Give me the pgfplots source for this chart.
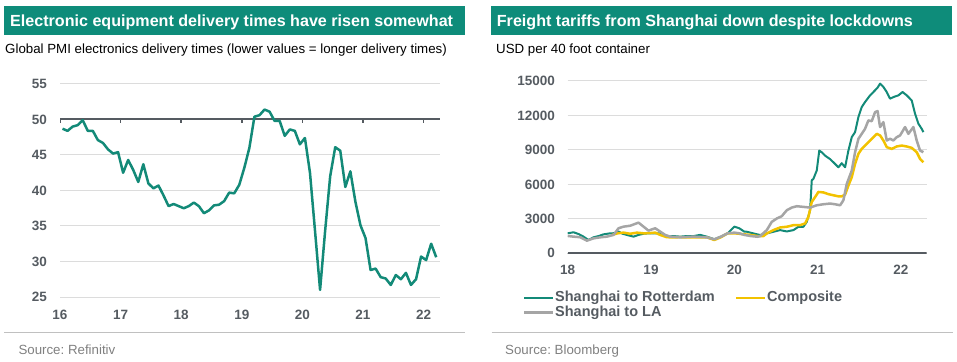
\documentclass[border=0pt]{standalone}
\usepackage{pgfplots}
\pgfplotsset{compat=1.18}
\usepackage{fontspec}
\setmainfont{Liberation Sans}
\frenchspacing
\definecolor{ingteal}{HTML}{0E8C7A}
\definecolor{lineteal}{HTML}{138A78}
\definecolor{compyellow}{HTML}{F2C200}
\definecolor{lagrey}{HTML}{A5A5A5}
\definecolor{axisgrey}{HTML}{555B61}
\definecolor{gridgrey}{HTML}{DCDCDC}
\definecolor{srcgrey}{HTML}{808080}
\definecolor{rulegrey}{HTML}{C0C0C0}

\pgfplotstableread{
x y
0.5 48.7
1.5 48.4
2.5 49.0
3.5 49.2
4.5 49.9
5.5 48.4
6.5 48.4
7.5 47.1
8.5 46.7
9.5 45.8
10.5 45.2
11.5 45.4
12.5 42.5
13.5 44.3
14.5 42.9
15.5 41.2
16.5 43.7
17.5 41.0
18.5 40.3
19.5 40.7
20.5 39.3
21.5 37.8
22.5 38.1
23.5 37.8
24.5 37.5
25.5 37.8
26.5 38.3
27.5 37.8
28.5 36.8
29.5 37.2
30.5 37.9
31.5 38.0
32.5 38.5
33.5 39.7
34.5 39.6
35.5 40.8
36.5 43.2
37.5 46.0
38.5 50.4
39.5 50.6
40.5 51.4
41.5 51.1
42.5 49.8
43.5 49.8
44.5 47.7
45.5 48.6
46.5 48.4
47.5 46.5
48.5 47.4
49.5 42.5
50.5 34.3
51.5 26.0
52.5 34.3
53.5 42.0
54.5 46.1
55.5 45.6
56.5 40.5
57.5 42.7
58.5 38.4
59.5 35.1
60.5 33.3
61.5 28.8
62.5 29.0
63.5 27.8
64.5 27.6
65.5 26.7
66.5 28.1
67.5 27.5
68.5 28.4
69.5 26.7
70.5 27.5
71.5 30.7
72.5 30.2
73.5 32.5
74.5 30.6
}\pmidata

\pgfplotstableread{
x y
18.00 1740
18.07 1830
18.13 1680
18.19 1450
18.25 1160
18.31 1390
18.37 1500
18.43 1650
18.51 1740
18.57 1750
18.61 1890
18.66 1700
18.71 1600
18.79 1450
18.85 1600
18.91 1700
18.97 1740
19.05 1740
19.11 1740
19.19 1450
19.27 1500
19.35 1450
19.43 1500
19.51 1500
19.59 1600
19.67 1450
19.76 1220
19.84 1450
19.92 1740
19.97 2100
20.00 2320
20.06 2180
20.12 1890
20.15 1875
20.23 1730
20.31 1590
20.39 1730
20.47 1875
20.55 2020
20.63 1900
20.71 2020
20.77 2310
20.83 2310
20.87 2740
20.91 3750
20.93 6350
20.95 6490
20.99 7210
21.02 8940
21.05 8800
21.09 8500
21.15 8200
21.21 7780
21.25 7490
21.29 7840
21.33 7490
21.37 8950
21.41 10110
21.45 10550
21.49 11860
21.53 12730
21.57 13170
21.63 13750
21.67 14040
21.72 14420
21.75 14770
21.79 14480
21.83 14040
21.87 13460
21.91 13600
21.97 13750
22.02 14040
22.07 13750
22.13 13310
22.17 12150
22.21 11280
22.25 10840
22.27 10550
}\rotterdam

\pgfplotstableread{
x y
18.53 1600
18.60 1740
18.67 1800
18.75 1700
18.83 1800
18.91 1740
18.97 1750
19.05 1800
19.11 1600
19.19 1400
19.27 1390
19.35 1400
19.43 1390
19.51 1390
19.59 1390
19.67 1390
19.76 1160
19.84 1400
19.92 1740
20.00 1740
20.06 1700
20.12 1650
20.20 1590
20.28 1500
20.35 1500
20.39 1730
20.47 2020
20.55 2250
20.63 2310
20.71 2450
20.79 2450
20.85 2600
20.89 3170
20.93 4470
20.97 4900
21.01 5340
21.07 5300
21.13 5150
21.19 5050
21.25 4960
21.29 4960
21.33 5100
21.37 5900
21.41 6620
21.45 7780
21.49 8660
21.53 9090
21.59 9530
21.65 9970
21.71 10400
21.75 10260
21.79 9820
21.83 9240
21.89 9090
21.95 9300
22.01 9380
22.07 9300
22.13 9180
22.19 8800
22.23 8220
22.27 7930
}\composite

\pgfplotstableread{
x y
18.00 1510
18.07 1450
18.15 1400
18.23 1100
18.31 1300
18.39 1390
18.47 1450
18.55 1600
18.61 2180
18.67 2320
18.75 2400
18.85 2670
18.91 2320
18.97 1975
19.05 2180
19.11 1890
19.17 1600
19.23 1450
19.35 1390
19.51 1450
19.67 1390
19.76 1220
19.84 1450
19.92 1740
20.00 1800
20.06 1740
20.12 1600
20.20 1500
20.28 1440
20.31 1500
20.39 2020
20.45 2740
20.51 3030
20.57 3230
20.63 3750
20.69 3980
20.75 4100
20.83 4040
20.91 3980
20.99 4180
21.07 4270
21.15 4330
21.21 4270
21.27 4180
21.31 4620
21.35 6040
21.41 7200
21.45 8800
21.49 9970
21.53 10400
21.57 10840
21.61 11570
21.65 11500
21.69 12290
21.72 12380
21.75 10990
21.79 11420
21.83 9820
21.87 9970
21.91 9820
21.95 10110
21.99 10260
22.05 10990
22.09 10400
22.15 10990
22.19 9820
22.23 8950
22.27 8800
}\shanghaila

\begin{document}
\begin{tikzpicture}[x=1pt,y=1pt]
\useasboundingbox (0,0) rectangle (957,361);
% title bars
\fill[ingteal] (4,326) rectangle (465,355);
\fill[ingteal] (491,326) rectangle (952,355);
\node[anchor=base west, inner sep=0pt, text=white, font=\fontsize{16.1}{19}\selectfont\bfseries] at (10,334.3) {Electronic equipment delivery times have risen somewhat};
\node[anchor=base west, inner sep=0pt, text=white, font=\fontsize{16.1}{19}\selectfont\bfseries] at (496.7,334.3) {Freight tariffs from Shanghai down despite lockdowns};
\node[anchor=base west, inner sep=0pt, font=\fontsize{13.3}{16}\selectfont] at (5,307.7) {Global PMI electronics delivery times (lower values = longer delivery times)};
\node[anchor=base west, inner sep=0pt, font=\fontsize{13.3}{16}\selectfont] at (496,307.7) {USD per 40 foot container};
\draw[rulegrey, line width=1.5pt] (4,28.3) -- (465,28.3);
\draw[rulegrey, line width=1.5pt] (491.7,28.3) -- (952.7,28.3);
\node[anchor=base west, inner sep=0pt, text=srcgrey, font=\fontsize{13.3}{16}\selectfont] at (18.3,7) {Source: Refinitiv};
\node[anchor=base west, inner sep=0pt, text=srcgrey, font=\fontsize{13.3}{16}\selectfont] at (505,7) {Source: Bloomberg};

\pgfplotsset{
  mystyle/.style={
    scale only axis, enlargelimits=false,
    axis line style={draw=none}, major tick length=0pt,
    ymajorgrids, grid style={gridgrey, line width=1pt},
    tick label style={font=\fontsize{13.5}{16}\selectfont\bfseries, text=axisgrey},
    /pgf/number format/assume math mode=true,
    xticklabel style={anchor=north, inner sep=0pt},
    yticklabel style={anchor=east, inner sep=0pt},
  }
}

% left chart
\begin{axis}[mystyle,
  at={(60pt,64pt)}, anchor=south west, width=380pt, height=213pt,
  xmin=0, xmax=75.25, ymin=25, ymax=55,
  xtick={0,12,24,36,48,60,72}, xticklabels={16,17,18,19,20,21,22},
  ytick={25,30,35,40,45,50,55},
  xticklabel style={yshift=-13pt},
  yticklabel style={xshift=-13pt},
]
\draw[axisgrey, line width=2pt] (axis cs:0,50) -- (axis cs:75.25,50);
\pgfplotsinvokeforeach{0,12,24,36,48,60,72}{
  \draw[axisgrey, line width=1.5pt] (axis cs:#1,50) -- ([yshift=-4pt]axis cs:#1,50);
}
\addplot[lineteal, line width=2.5pt, line join=round] table[x=x,y=y] {\pmidata};
\end{axis}

% right chart
\begin{axis}[mystyle,
  at={(567.7pt,107.7pt)}, anchor=south west, width=359pt, height=172.3pt,
  xmin=18, xmax=22.31, ymin=0, ymax=15000,
  xtick={18,19,20,21,22}, xticklabels={18,19,20,21,22},
  ytick={0,3000,6000,9000,12000,15000},
  scaled y ticks=false, /pgf/number format/1000 sep={},
  xticklabel style={yshift=-11.7pt},
  yticklabel style={xshift=-12.7pt},
  legend columns=2,
  legend cell align=left,
  legend image code/.code={\draw[#1, line width=2.5pt] (0pt,0pt) -- (29pt,0pt);},
  legend style={at={(axis description cs:0,0)}, anchor=north west,
    xshift=-44.7pt, yshift=-37pt, draw=none, fill=none, inner sep=0pt,
    font=\fontsize{14.5}{17}\selectfont\bfseries, text=axisgrey, row sep=0pt,
    nodes={inner sep=0.5pt, text height=10.5pt, text depth=3pt},
    /tikz/every even column/.append style={column sep=20pt}},
]
\draw[axisgrey, line width=2pt] (axis cs:18,0) -- (axis cs:22.31,0);
\pgfplotsinvokeforeach{18,19,20,21,22}{
  \draw[axisgrey, line width=1.5pt] (axis cs:#1,0) -- ([yshift=-4pt]axis cs:#1,0);
}
\addplot[lineteal, line width=2pt, line join=round] table[x=x,y=y] {\rotterdam};
\addlegendentry{Shanghai to Rotterdam}
\addplot[compyellow, line width=2.5pt, line join=round] table[x=x,y=y] {\composite};
\addlegendentry{Composite}
\addplot[lagrey, line width=2.5pt, line join=round] table[x=x,y=y] {\shanghaila};
\addlegendentry{Shanghai to LA}
\end{axis}
\end{tikzpicture}
\end{document}
